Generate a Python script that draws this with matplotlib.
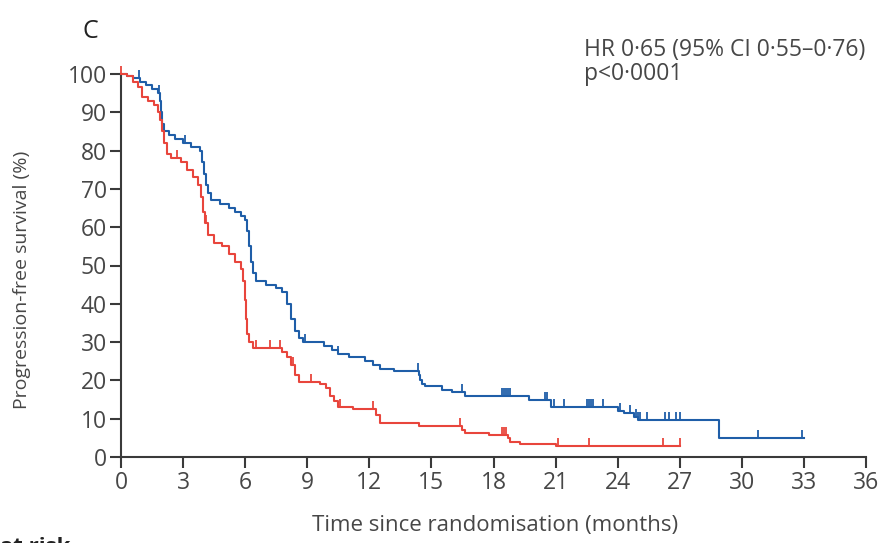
import numpy as np
import matplotlib
matplotlib.use("Agg")
import matplotlib.pyplot as plt
from matplotlib.path import Path

plt.rcParams['font.family'] = ['Open Sans', 'DejaVu Sans']

# blue arm: event times (months) and survival (%) after each step
blue_t = [0, 0.3, 0.6, 0.9, 1.2, 1.5, 1.8, 1.9, 1.95, 2.0, 2.1, 2.3, 2.6, 3.0, 3.4, 3.8,
          3.9, 4.0, 4.1, 4.2, 4.35, 4.8, 5.2, 5.5, 5.8, 6.0, 6.1, 6.2, 6.3, 6.4, 6.5,
          7.0, 7.5, 7.8, 8.0, 8.2, 8.4, 8.6, 8.8, 9.8, 10.2, 10.5, 11.0, 11.8, 12.2,
          12.5, 13.2, 14.4, 14.45, 14.55, 14.7, 15.5, 16.0, 16.6, 19.7, 20.8, 24.0,
          24.3, 24.8, 25.0, 28.9, 33.0]
blue_s = [100, 99.5, 99, 98, 97, 96, 95, 93, 90, 87, 85, 84, 83, 82, 81, 80,
          77, 74, 71, 69, 67, 66, 65, 64, 63, 62, 59, 55, 51, 48, 46,
          45, 44, 43, 40, 36, 33, 31, 30, 29, 28, 27, 26, 25, 24,
          23, 22.5, 21.5, 20, 19, 18.5, 17.5, 17, 16, 15, 13, 12,
          11.5, 10.5, 9.6, 4.9, 4.9]
blue_cens = [0.85, 1.85, 3.1, 8.9, 10.5, 14.35, 16.5, 18.4, 18.5, 18.6, 18.7, 18.8,
             20.5, 20.6, 20.9, 21.4, 22.5, 22.6, 22.7, 22.8, 23.3, 24.1, 24.6,
             24.9, 25.0, 25.1, 25.4, 26.3, 26.5, 26.8, 27.0, 30.8, 32.9]

# red arm
red_t = [0, 0.3, 0.6, 0.8, 1.0, 1.3, 1.6, 1.8, 1.9, 2.0, 2.1, 2.2, 2.4, 2.9, 3.2,
         3.5, 3.7, 3.85, 3.95, 4.05, 4.2, 4.5, 4.9, 5.2, 5.5, 5.8, 5.9, 6.0, 6.05,
         6.1, 6.2, 6.4, 7.8, 8.0, 8.2, 8.4, 8.6, 9.6, 9.9, 10.1, 10.3, 10.5, 11.2,
         12.3, 12.5, 14.4, 16.5, 16.6, 17.8, 18.7, 18.8, 19.3, 21.0, 27.0]
red_s = [100, 99.5, 98, 96.5, 94, 93, 92, 90, 88, 85, 82, 79, 78, 77, 75,
         73, 71, 68, 64, 61, 58, 56, 55, 53, 51, 49, 46, 41, 36,
         32, 30, 28.5, 27.5, 26, 24, 21.5, 19.5, 19, 18, 16, 14.5, 13, 12.5,
         11, 9, 8, 7, 6.2, 5.8, 5, 4, 3.4, 2.8, 2.8]
red_cens = [0.0, 2.7, 4.1, 6.5, 7.2, 7.7, 8.3, 9.2, 10.6, 12.2, 16.4, 18.4, 18.5,
            18.6, 21.1, 22.6, 26.2, 27.0]

x_ticks = list(range(0, 37, 3))
y_ticks = list(range(0, 101, 10))

blue = '#1f5ea8'
red = '#e8453c'
axc = '#3a3a3a'
txt = '#474747'


def surv_at(ts, ss, t):
    i = np.searchsorted(ts, t, side='right') - 1
    return ss[max(i, 0)]


tick_marker = Path([(0, 0), (0, 1)], [Path.MOVETO, Path.LINETO])

fig = plt.figure(figsize=(8.84, 5.43), dpi=100)
ax = fig.add_axes([121 / 884, 1 - 457 / 543, 745 / 884, 383 / 543])

for ts, ss, cens, col in [(blue_t, blue_s, blue_cens, blue), (red_t, red_s, red_cens, red)]:
    ax.step(ts, ss, where='post', color=col, lw=1.5, clip_on=False, zorder=3)
    cy = [surv_at(ts, ss, c) for c in cens]
    ax.plot(cens, cy, ls='none', marker=tick_marker, markersize=12,
            markeredgewidth=1.3, color=col, clip_on=False, zorder=3)

ax.set_xlim(0, 36)
ax.set_ylim(0, 100)
ax.set_xticks(x_ticks)
ax.set_yticks(y_ticks)
for s in ['top', 'right']:
    ax.spines[s].set_visible(False)
for s in ['left', 'bottom']:
    ax.spines[s].set_color(axc)
    ax.spines[s].set_linewidth(1.5)
ax.tick_params(axis='both', colors=axc, labelcolor=txt, labelsize=16.5,
               length=8, width=1.5, direction='out', pad=2)

ax.set_xlabel('Time since randomisation (months)', fontsize=16, color=txt)
ax.xaxis.set_label_coords((495 - 121) / 745, -(525 - 457) / 383)
ax.set_ylabel('Progression-free survival (%)', fontsize=14, color=txt)
ax.yaxis.set_label_coords(-(121 - 22) / 745, (457 - 280) / 383)
ax.xaxis.label.set_va('center')
ax.yaxis.label.set_va('center')

fig.text(90 / 884, 1 - 32 / 543, 'C', fontsize=18, color='#222222', ha='center', va='center')
fig.text(584 / 884, 1 - 50 / 543, 'HR 0·65 (95% CI 0·55–0·76)',
         fontsize=16.5, color=txt, ha='left', va='center')
fig.text(584 / 884, 1 - 74 / 543, 'p<0·0001',
         fontsize=16.5, color=txt, ha='left', va='center')
fig.text(0 / 884, 1 - 537 / 543, 'at risk', fontsize=16, fontweight='bold',
         color='#222222', ha='left', va='top')

fig.savefig('out.png', dpi=100)
